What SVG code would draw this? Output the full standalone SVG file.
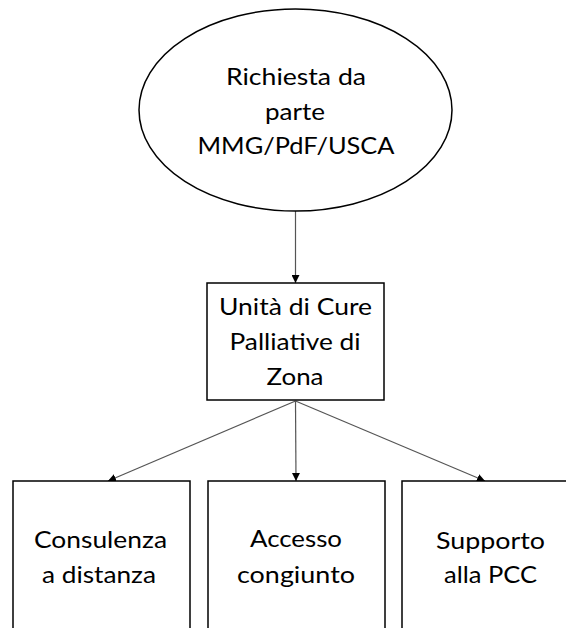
<svg xmlns="http://www.w3.org/2000/svg" width="566" height="628" viewBox="0 0 566 628">
<style>
.shape{fill:#ffffff;stroke:#000000;stroke-width:1.5}
.lbl{font-family:Lato,"Open Sans","Liberation Sans",sans-serif;font-size:24px;fill:#000000;text-anchor:middle}
.conn{stroke:#555555;stroke-width:1.2;fill:none;marker-end:url(#arrow)}
</style>
<defs>
<marker id="arrow" viewBox="0 0 10 10" refX="10" refY="5" markerWidth="8" markerHeight="8" markerUnits="userSpaceOnUse" orient="auto">
<path d="M0,0 L10,5 L0,10 Z" fill="#000000"/>
</marker>
</defs>
<rect width="566" height="628" fill="#ffffff"/>
<g id="connectors">
<line class="conn" x1="295.5" y1="211" x2="295.5" y2="283"/>
<line class="conn" x1="295.5" y1="401" x2="108" y2="481"/>
<line class="conn" x1="295.5" y1="401" x2="296" y2="481"/>
<line class="conn" x1="295.5" y1="401" x2="485" y2="481"/>
</g>
<g id="richiesta">
<ellipse class="shape" cx="295.5" cy="110" rx="156.5" ry="101"/>
<text class="lbl" x="296" y="85" textLength="140" lengthAdjust="spacingAndGlyphs">Richiesta da</text>
<text class="lbl" x="295" y="120" textLength="60" lengthAdjust="spacingAndGlyphs">parte</text>
<text class="lbl" x="296" y="154" textLength="197" lengthAdjust="spacingAndGlyphs">MMG/PdF/USCA</text>
</g>
<g id="unita">
<rect class="shape" x="207" y="283" width="177" height="117"/>
<text class="lbl" x="295.5" y="315" textLength="153" lengthAdjust="spacingAndGlyphs">Unità di Cure</text>
<text class="lbl" x="295" y="350" textLength="131" lengthAdjust="spacingAndGlyphs">Palliative di</text>
<text class="lbl" x="295" y="385" textLength="57" lengthAdjust="spacingAndGlyphs">Zona</text>
</g>
<g id="consulenza">
<rect class="shape" x="13" y="481" width="177" height="170"/>
<text class="lbl" x="100.5" y="548" textLength="133" lengthAdjust="spacingAndGlyphs">Consulenza</text>
<text class="lbl" x="99" y="583" textLength="114" lengthAdjust="spacingAndGlyphs">a distanza</text>
</g>
<g id="accesso">
<rect class="shape" x="208" y="481" width="177" height="170"/>
<text class="lbl" x="296" y="547" textLength="92" lengthAdjust="spacingAndGlyphs">Accesso</text>
<text class="lbl" x="296" y="583" textLength="118" lengthAdjust="spacingAndGlyphs">congiunto</text>
</g>
<g id="supporto">
<rect class="shape" x="402" y="481" width="177" height="170"/>
<text class="lbl" x="490.5" y="549" textLength="109" lengthAdjust="spacingAndGlyphs">Supporto</text>
<text class="lbl" x="490.5" y="583" textLength="93" lengthAdjust="spacingAndGlyphs">alla PCC</text>
</g>
</svg>
